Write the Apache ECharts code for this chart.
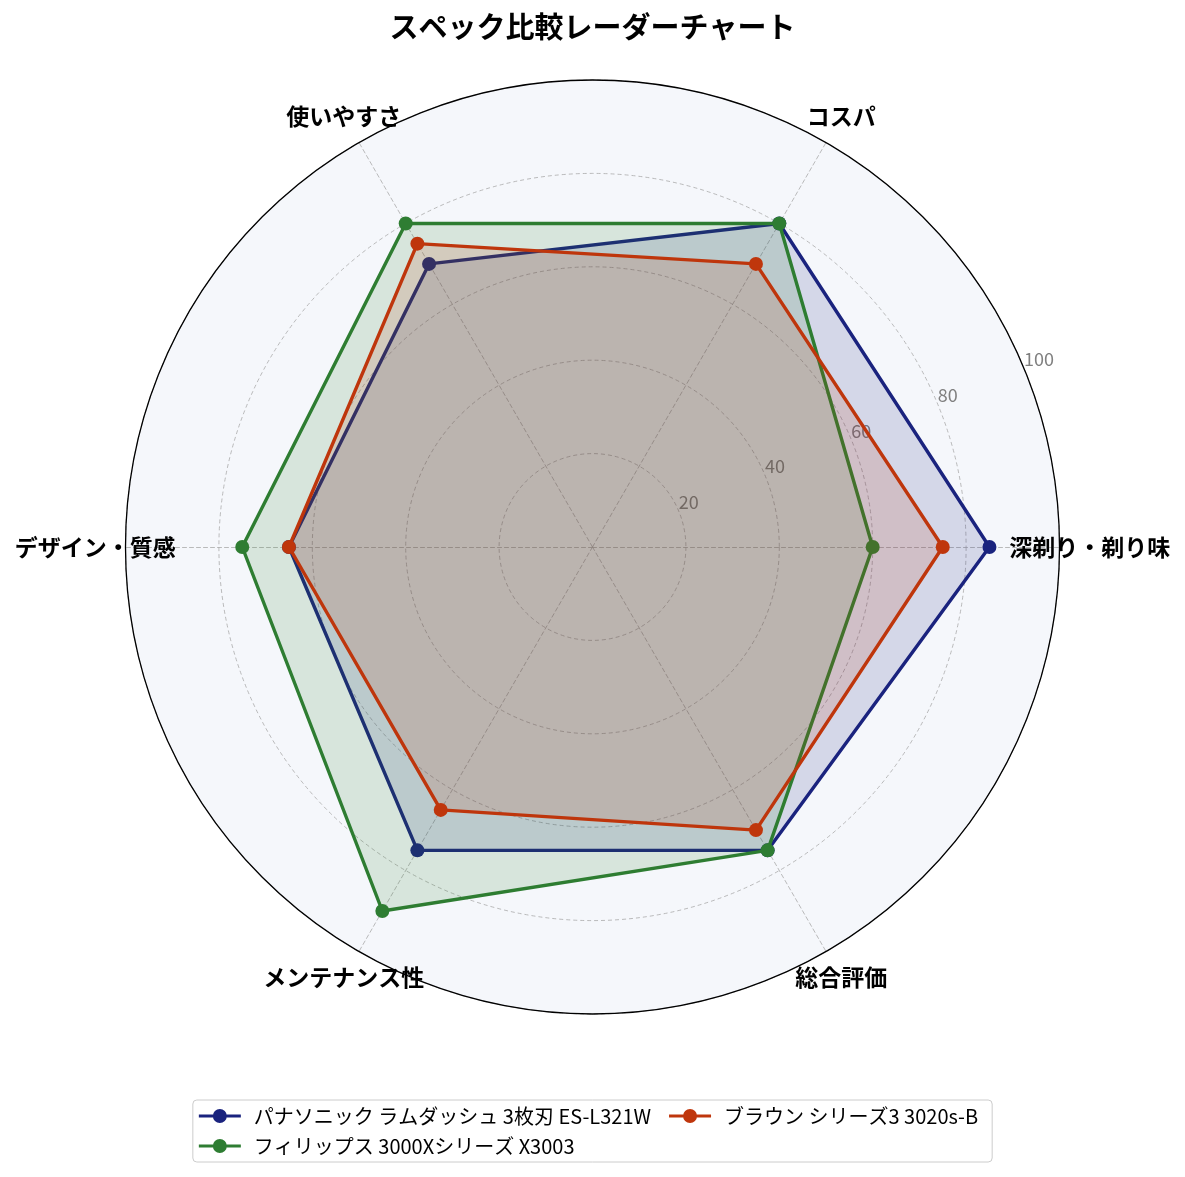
<!DOCTYPE html>
<html>
<head>
<meta charset="utf-8">
<script src="https://cdn.jsdelivr.net/npm/echarts@6/dist/echarts.min.js"></script>
<style>html,body{margin:0;padding:0;background:#fff;}#c{width:1185px;height:1177px;}</style>
</head>
<body>
<div id="c"></div>
<script>
var titleText = 'スペック比較レーダーチャート';
var categories = ['深剃り・剃り味', 'コスパ', '使いやすさ', 'デザイン・質感', 'メンテナンス性', '総合評価'];
var seriesNames = ['パナソニック ラムダッシュ 3枚刃 ES-L321W', 'フィリップス 3000Xシリーズ X3003', 'ブラウン シリーズ3 3020s-B'];
var panasonicValues = [85, 80, 70, 65, 75, 75];
var philipsValues = [60, 80, 80, 75, 90, 75];
var braunValues = [75, 70, 75, 65, 65, 70];
var radialTicks = [20, 40, 60, 80, 100];
var seriesColors = ['#1a237e', '#2e7d32', '#bf360c'];

var FONT = '"Noto Sans CJK JP", "Noto Sans", sans-serif';
var CENTER = [592.5, 547];
var RADIUS = 467;
var MAXV = 100;
var NAME_R = 106.5;

var legendIcon = 'path://M0,5.5H42V8.5H0Z M28,7A7,7,0,1,1,14,7A7,7,0,1,1,28,7Z';

var allValues = [panasonicValues, philipsValues, braunValues];

var radarSeries = allValues.map(function (vals, i) {
  return {
    type: 'radar',
    radarIndex: 0,
    name: seriesNames[i],
    z: 2 + i,
    symbol: 'circle',
    symbolSize: 14,
    lineStyle: { color: seriesColors[i], width: 3.4 },
    itemStyle: { color: seriesColors[i] },
    areaStyle: { color: seriesColors[i], opacity: 0.15 },
    data: [{ name: seriesNames[i], value: vals }]
  };
});

var nameSeries = {
  type: 'scatter',
  coordinateSystem: 'polar',
  polarIndex: 0,
  clip: false,
  silent: true,
  z: 10,
  symbolSize: 0,
  itemStyle: { color: '#000' },
  label: {
    show: true,
    position: 'inside',
    formatter: '{b}',
    color: '#000',
    opacity: 1,
    textBorderWidth: 0,
    fontSize: 23,
    fontWeight: 'bold',
    fontFamily: FONT
  },
  data: categories.map(function (c, i) {
    return { name: c, value: [NAME_R, i * 360 / categories.length] };
  })
};

var option = {
  backgroundColor: '#fff',
  animation: false,
  title: {
    text: titleText,
    left: 'center',
    top: 7,
    textStyle: { fontSize: 29, fontWeight: 'bold', color: '#000', fontFamily: FONT }
  },
  legend: {
    data: [seriesNames[0], seriesNames[2], seriesNames[1]],
    left: 'center',
    top: 1100,
    width: 800,
    orient: 'horizontal',
    icon: legendIcon,
    itemWidth: 42,
    itemHeight: 14,
    itemGap: 10,
    padding: [6, 6, 6, 6],
    borderColor: '#cccccc',
    borderWidth: 1,
    borderRadius: 4,
    backgroundColor: '#fff',
    textStyle: { fontSize: 20, lineHeight: 18, color: '#000', fontFamily: FONT, padding: [0, 8, 0, 8] }
  },
  radar: {
    center: CENTER,
    radius: RADIUS,
    startAngle: 0,
    shape: 'circle',
    splitNumber: 5,
    indicator: categories.map(function (c) { return { name: c, min: 0, max: MAXV }; }),
    axisName: { show: false },
    axisLabel: { show: false },
    axisTick: { show: false },
    axisLine: { show: true, lineStyle: { color: '#aaaaaa', width: 0.8, type: [4, 3] } },
    splitLine: { show: true, lineStyle: { color: '#aaaaaa', width: 0.8, type: [4, 3] } },
    splitArea: { show: true, areaStyle: { color: ['#f5f7fb'] } }
  },
  polar: [
    { center: CENTER, radius: RADIUS },
    { center: CENTER, radius: RADIUS }
  ],
  angleAxis: [
    {
      polarIndex: 0, type: 'value', min: 0, max: 360, startAngle: 0, clockwise: false,
      axisLine: { show: true, lineStyle: { color: '#000', width: 1.3 } },
      axisTick: { show: false }, axisLabel: { show: false }, splitLine: { show: false }, z: 1
    },
    {
      polarIndex: 1, type: 'value', min: 0, max: 360, startAngle: 22.5, clockwise: false,
      axisLine: { show: false }, axisTick: { show: false }, axisLabel: { show: false }, splitLine: { show: false }
    }
  ],
  radiusAxis: [
    {
      polarIndex: 0, type: 'value', min: 0, max: MAXV,
      axisLine: { show: false }, axisTick: { show: false }, axisLabel: { show: false }, splitLine: { show: false }
    },
    {
      polarIndex: 1, type: 'value', min: 0, max: MAXV, interval: 20, z: 1,
      axisLine: { show: false }, axisTick: { show: false }, splitLine: { show: false },
      axisLabel: {
        show: true, color: '#808080', fontSize: 18, fontFamily: FONT, margin: 0,
        align: 'left', verticalAlign: 'bottom',
        formatter: function (v) { return radialTicks.indexOf(v) >= 0 ? String(v) : ''; }
      }
    }
  ],
  series: radarSeries.concat([nameSeries])
};

var chart = echarts.init(document.getElementById('c'), null, { renderer: 'canvas' });
chart.setOption(option);
</script>
</body>
</html>
